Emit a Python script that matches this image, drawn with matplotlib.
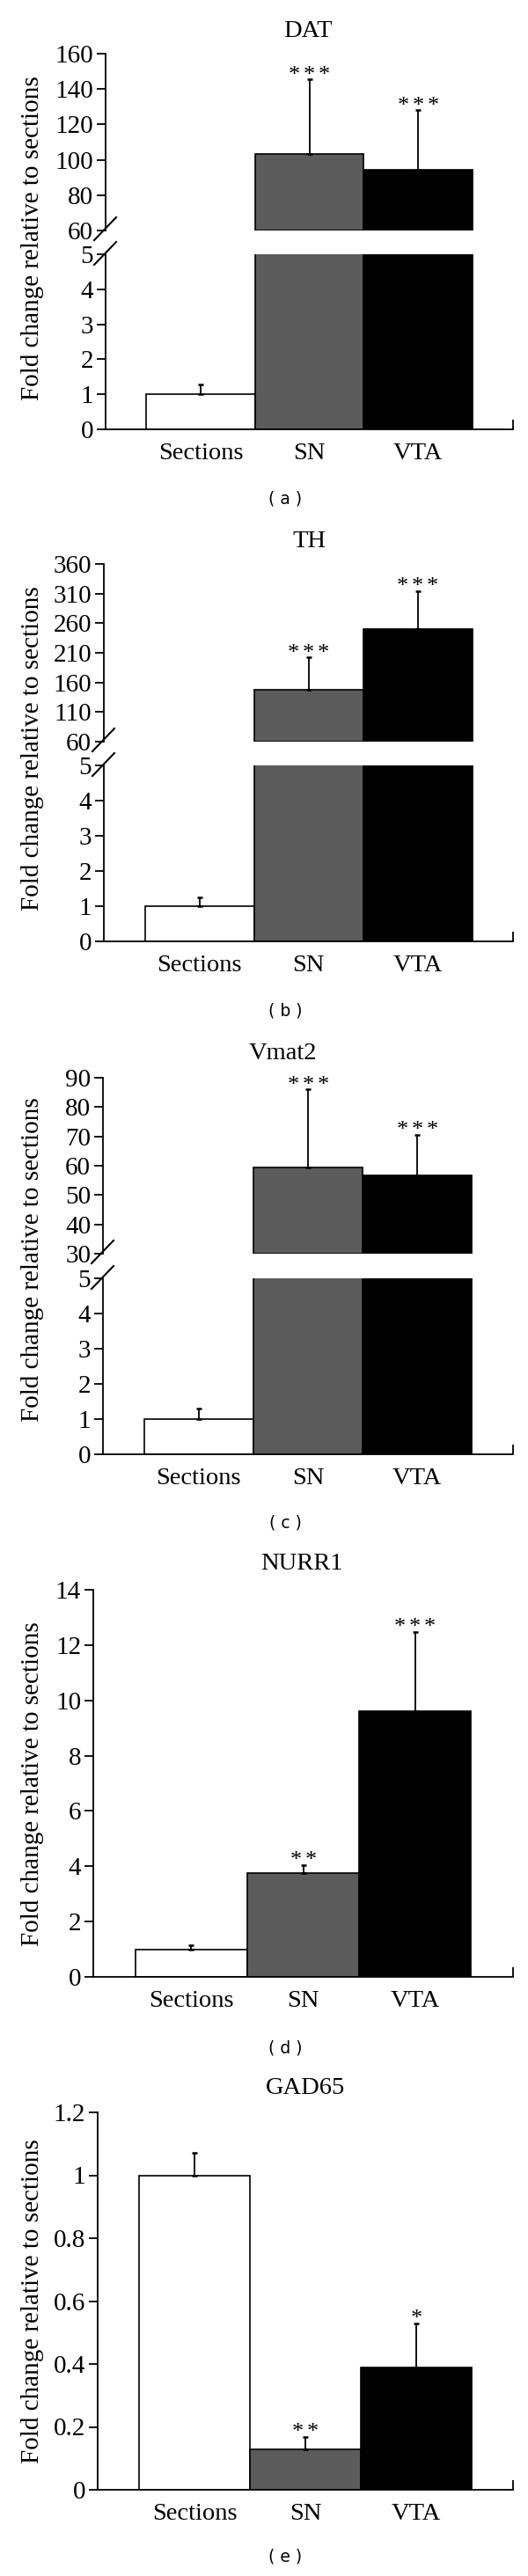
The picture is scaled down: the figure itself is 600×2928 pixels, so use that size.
import numpy as np
import matplotlib.pyplot as plt
from matplotlib.lines import Line2D

plt.rcParams['font.family'] = ['Liberation Serif', 'DejaVu Serif']

# data
groups = ['Sections', 'SN', 'VTA']
bar_colors = ['white', '#5b5b5b', 'black']

dat_mean = [1.0, 103.5, 94.5]
dat_err = [0.29, 42.0, 33.5]
dat_stars = ['', '***', '***']

th_mean = [1.0, 148.0, 250.5]
th_err = [0.26, 54.0, 63.5]
th_stars = ['', '***', '***']

vmat2_mean = [1.0, 59.5, 56.7]
vmat2_err = [0.29, 26.5, 13.8]
vmat2_stars = ['', '***', '***']

nurr1_mean = [1.0, 3.77, 9.62]
nurr1_err = [0.14, 0.27, 2.85]
nurr1_stars = ['', '**', '***']

gad65_mean = [1.0, 0.129, 0.388]
gad65_err = [0.07, 0.04, 0.142]
gad65_stars = ['', '**', '*']

W, H = 600, 2928
X_END = 583
XLIM = (-0.875, 2.875)

# layout in pixels of the 600x2928 picture
panels = [
    dict(title='DAT', mean=dat_mean, err=dat_err, stars=dat_stars, axis_x=120,
         top=61, brk=(262, 289), bottom=488, upper=np.arange(60, 161, 20),
         lower=np.arange(0, 6), title_xy=(350, 36), ylab_y=271, cap='( a )', cap_y=567),
    dict(title='TH', mean=th_mean, err=th_err, stars=th_stars, axis_x=118,
         top=641, brk=(843, 870), bottom=1070, upper=np.arange(60, 361, 50),
         lower=np.arange(0, 6), title_xy=(351, 616), ylab_y=851, cap='( b )', cap_y=1149),
    dict(title='Vmat2', mean=vmat2_mean, err=vmat2_err, stars=vmat2_stars, axis_x=117,
         top=1225, brk=(1425, 1453), bottom=1653, upper=np.arange(30, 91, 10),
         lower=np.arange(0, 6), title_xy=(321, 1198), ylab_y=1432, cap='( c )', cap_y=1731),
    dict(title='NURR1', mean=nurr1_mean, err=nurr1_err, stars=nurr1_stars, axis_x=106,
         top=1807, brk=None, bottom=2247, lower=np.arange(0, 15, 2),
         title_xy=(343, 1778), ylab_y=2028, cap='( d )', cap_y=2328),
    dict(title='GAD65', mean=gad65_mean, err=gad65_err, stars=gad65_stars, axis_x=111,
         top=2401, brk=None, bottom=2830, lower=np.round(np.arange(0, 1.21, 0.2), 1),
         title_xy=(347, 2374), ylab_y=2616, cap='( e )', cap_y=2906),
]

fig = plt.figure(figsize=(W / 100, H / 100), dpi=100)


def fx(x):
    return x / W


def fy(y):
    return 1 - y / H


def add_ax(x0, y0, y1):
    return fig.add_axes([fx(x0), fy(y1), (X_END - x0) / W, (y1 - y0) / H])


def style(ax, ticks, show_x):
    ax.set_xlim(*XLIM)
    ax.set_ylim(ticks[0], ticks[-1])
    ax.set_yticks(ticks)
    ax.set_yticklabels(['%g' % t for t in ticks])
    for s in ['top', 'right']:
        ax.spines[s].set_visible(False)
    ax.spines['left'].set_linewidth(1.3)
    ax.spines['bottom'].set_linewidth(1.3)
    ax.tick_params(axis='y', direction='out', length=7, width=1.3, labelsize=21, pad=3)
    if show_x:
        ax.set_xticks(range(len(groups)))
        ax.set_xticklabels(groups)
        ax.tick_params(axis='x', which='major', length=0, labelsize=20.5, pad=11)
        ax.set_xticks([XLIM[1]], minor=True)
        ax.tick_params(axis='x', which='minor', direction='in', length=8, width=1.3)
    else:
        ax.spines['bottom'].set_visible(False)
        ax.set_xticks([])


def draw(ax, mean, err, stars, lo=None):
    x = np.arange(len(groups))
    mean = np.asarray(mean)
    err = np.asarray(err)
    if lo is None:
        ax.bar(x, mean, width=1.0, color=bar_colors, edgecolor='black', linewidth=1.2, zorder=2)
    else:
        up = mean > lo
        ax.bar(x[up], mean[up] - lo, bottom=lo, width=1.0,
               color=np.array(bar_colors)[up], edgecolor='black', linewidth=1.2, zorder=2)
    ax.errorbar(x, mean, yerr=[np.zeros(len(x)), err], fmt='none', ecolor='black',
                elinewidth=1.3, capsize=2, capthick=1.8, zorder=3)
    y0, y1 = ax.get_ylim()
    for xi, m, e, s in zip(x, mean, err, stars):
        if s and y0 <= m + e <= y1:
            n = len(s)
            # asterisks spaced ~17 px apart
            for k in range(n):
                ax.annotate('*', (xi, m + e), xytext=((k - (n - 1) / 2) * 12.3, -1),
                            textcoords='offset points', ha='center', va='baseline',
                            fontsize=19, annotation_clip=False)


for p in panels:
    if p['brk'] is None:
        ax = add_ax(p['axis_x'], p['top'], p['bottom'])
        style(ax, p['lower'], True)
        draw(ax, p['mean'], p['err'], p['stars'])
    else:
        hi, lo_px = p['brk']
        ax_up = add_ax(p['axis_x'], p['top'], hi)
        ax_lo = add_ax(p['axis_x'], lo_px, p['bottom'])
        style(ax_up, p['upper'], False)
        style(ax_lo, p['lower'], True)
        draw(ax_up, p['mean'], p['err'], p['stars'], lo=p['upper'][0])
        draw(ax_lo, p['mean'], p['err'], p['stars'])
        # break slashes on the y axis
        for yc in (hi - 2, lo_px - 1):
            fig.add_artist(Line2D([fx(p['axis_x'] - 13), fx(p['axis_x'] + 12)],
                                  [fy(yc + 13), fy(yc - 13)], transform=fig.transFigure,
                                  color='black', lw=1.5))
    tx, ty = p['title_xy']
    fig.text(fx(tx), fy(ty), p['title'], ha='center', va='center', fontsize=20.5)
    fig.text(fx(37), fy(p['ylab_y']), 'Fold change relative to sections', rotation=90,
             ha='center', va='center', fontsize=21)
    fig.text(fx(324), fy(p['cap_y']), p['cap'], ha='center', va='center',
             fontsize=13.5, family='DejaVu Sans')

fig.savefig('out.png', dpi=100)
